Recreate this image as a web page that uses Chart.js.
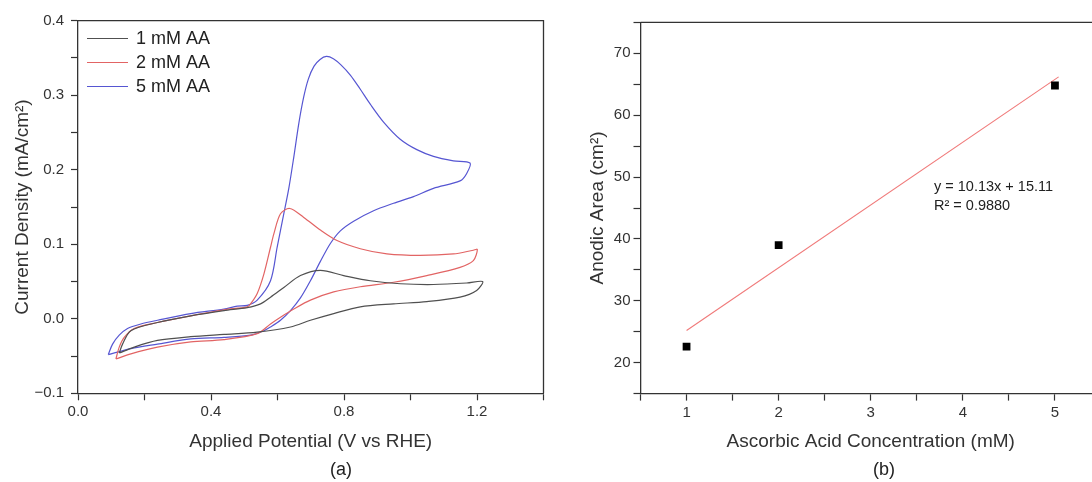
<!DOCTYPE html>
<html>
<head>
<meta charset="utf-8">
<script src="https://cdn.jsdelivr.net/npm/chart.js@4/dist/chart.umd.min.js"></script>
<style>
  html, body { margin: 0; padding: 0; background: #fff; overflow: hidden; }
  body { width: 1092px; height: 482px; position: relative; font-family: "Liberation Sans", Arial, sans-serif; }
  #cvWrap { position: absolute; left: 0; top: 0; width: 552px; height: 482px; }
  #fitWrap { position: absolute; left: 550px; top: 0; width: 560px; height: 482px; }
  .panel { position: absolute; top: 469px; transform: translate(-50%, -50%); font-size: 18px; color: #222; }
</style>
</head>
<body>
<div id="cvWrap"><canvas id="cvChart" width="552" height="482"></canvas></div>
<div id="fitWrap"><canvas id="fitChart" width="560" height="482"></canvas></div>
<div class="panel" style="left:341px">(a)</div>
<div class="panel" style="left:884px">(b)</div>
<script>
// (a) cyclic voltammograms: forward scan then reverse scan, closed loop
const aa1Potential = [0.124, 0.134, 0.159, 0.239, 0.339, 0.439, 0.509, 0.549, 0.579, 0.619, 0.669, 0.729, 0.799, 0.879, 0.969, 1.069, 1.169, 1.217,
    1.199, 1.149, 1.049, 0.949, 0.849, 0.769, 0.699, 0.639, 0.539, 0.439, 0.339, 0.239, 0.169, 0.124];
const aa1Current = [-0.046, -0.034, -0.016, -0.005, 0.004, 0.011, 0.015, 0.020, 0.029, 0.042, 0.058, 0.065, 0.058, 0.051, 0.047, 0.046, 0.048, 0.050,
    0.038, 0.029, 0.023, 0.020, 0.016, 0.007, -0.002, -0.011, -0.018, -0.021, -0.024, -0.029, -0.038, -0.046];

const aa2Potential = [0.114, 0.124, 0.139, 0.169, 0.239, 0.339, 0.439, 0.509, 0.519, 0.539, 0.559, 0.579, 0.589, 0.609, 0.637, 0.679, 0.729, 0.779, 0.849, 0.929, 1.029, 1.129, 1.189, 1.201,
    1.189, 1.149, 1.049, 0.949, 0.849, 0.769, 0.699, 0.649, 0.609, 0.579, 0.539, 0.439, 0.339, 0.239, 0.159, 0.114];
const aa2Current = [-0.054, -0.038, -0.025, -0.013, -0.005, 0.004, 0.012, 0.016, 0.020, 0.034, 0.060, 0.096, 0.114, 0.141, 0.148, 0.136, 0.119, 0.105, 0.094, 0.087, 0.085, 0.087, 0.092, 0.093,
    0.078, 0.069, 0.058, 0.049, 0.043, 0.036, 0.025, 0.013, 0.002, -0.007, -0.020, -0.028, -0.031, -0.038, -0.047, -0.054];

const aa5Potential = [0.091, 0.104, 0.124, 0.149, 0.189, 0.239, 0.339, 0.439, 0.479, 0.509, 0.539, 0.579, 0.599, 0.619, 0.634, 0.649, 0.664, 0.679, 0.693, 0.710, 0.728, 0.747, 0.768, 0.790, 0.819, 0.849, 0.879, 0.919, 0.969, 1.019, 1.069, 1.129, 1.179,
    1.169, 1.149, 1.069, 1.009, 0.949, 0.889, 0.829, 0.789, 0.759, 0.729, 0.699, 0.669, 0.639, 0.609, 0.579, 0.559, 0.519, 0.439, 0.339, 0.239, 0.159, 0.091];
const aa5Current = [-0.048, -0.034, -0.022, -0.013, -0.007, -0.002, 0.007, 0.013, 0.017, 0.018, 0.025, 0.051, 0.096, 0.141, 0.175, 0.217, 0.262, 0.298, 0.322, 0.339, 0.348, 0.352, 0.349, 0.341, 0.327, 0.308, 0.288, 0.264, 0.241, 0.227, 0.218, 0.212, 0.209,
    0.195, 0.185, 0.175, 0.164, 0.155, 0.145, 0.131, 0.118, 0.101, 0.077, 0.051, 0.028, 0.011, -0.002, -0.011, -0.016, -0.022, -0.025, -0.027, -0.034, -0.040, -0.048];

// (b) anodic area vs concentration
const concentration = [1, 2, 5];
const anodicArea = [22.6, 39.0, 64.8];
const fitX = [1, 5.04];
const fitY = [25.2, 66.2];
const fitText = ['y = 10.13x + 15.11', 'R\u00B2 = 0.9880'];

const toPoints = (xs, ys) => xs.map((x, i) => ({ x: x, y: ys[i] }));

const axisColor = '#333';
const textColor = '#333';
const fontFamily = '"Liberation Sans", Arial, sans-serif';
Chart.defaults.font.family = fontFamily;
Chart.defaults.color = textColor;

// box lines on top / right of plot area
const frame = {
    id: 'frame',
    afterDraw(chart) {
        const { ctx, chartArea: a } = chart;
        ctx.save();
        ctx.strokeStyle = axisColor;
        ctx.lineWidth = 1.3;
        ctx.beginPath();
        ctx.moveTo(a.left, a.top);
        ctx.lineTo(a.right, a.top);
        ctx.lineTo(a.right, a.bottom);
        ctx.stroke();
        ctx.restore();
    }
};

const cvLegend = {
    id: 'cvLegend',
    afterDraw(chart) {
        const ctx = chart.ctx;
        ctx.save();
        ctx.font = '18px ' + fontFamily;
        ctx.textBaseline = 'middle';
        chart.data.datasets.forEach((ds, i) => {
            const y = 38.5 + i * 24;
            ctx.strokeStyle = ds.borderColor;
            ctx.lineWidth = 1.2;
            ctx.beginPath();
            ctx.moveTo(87, y);
            ctx.lineTo(128, y);
            ctx.stroke();
            ctx.fillStyle = '#222';
            ctx.fillText(ds.label, 136, y + 1);
        });
        ctx.restore();
    }
};

const fitLabel = {
    id: 'fitLabel',
    afterDraw(chart) {
        const ctx = chart.ctx;
        ctx.save();
        ctx.font = '14.5px ' + fontFamily;
        ctx.fillStyle = '#222';
        ctx.textBaseline = 'middle';
        ctx.fillText(fitText[0], 384, 187);
        ctx.fillText(fitText[1], 384, 206);
        ctx.restore();
    }
};

function axis(opts) {
    return {
        type: 'linear',
        min: opts.min,
        max: opts.max,
        border: { color: axisColor, width: 1.3 },
        grid: { display: true, drawOnChartArea: false, tickLength: 7, color: axisColor, tickWidth: 1.2 },
        ticks: {
            stepSize: opts.step,
            padding: opts.padding,
            autoSkip: false,
            maxRotation: 0,
            color: textColor,
            font: { size: 15 },
            callback: opts.label
        },
        title: {
            display: true,
            text: opts.title,
            color: textColor,
            font: { size: 19 },
            padding: opts.titlePadding
        },
        afterFit: opts.fit
    };
}

// Left: CV curves
new Chart(document.getElementById('cvChart'), {
    type: 'scatter',
    data: {
        datasets: [
            { label: '1 mM AA', data: toPoints(aa1Potential, aa1Current), borderColor: '#505050' },
            { label: '2 mM AA', data: toPoints(aa2Potential, aa2Current), borderColor: '#e26464' },
            { label: '5 mM AA', data: toPoints(aa5Potential, aa5Current), borderColor: '#5656d2' }
        ].map(d => Object.assign(d, { showLine: true, pointRadius: 0, borderWidth: 1.2, tension: 0.3, fill: false }))
    },
    options: {
        responsive: false,
        animation: false,
        devicePixelRatio: 1,
        layout: { padding: { left: 0, top: 20.7, right: 8.5, bottom: 0 } },
        plugins: { legend: { display: false }, tooltip: { enabled: false } },
        scales: {
            x: axis({
                min: 0, max: 1.4, step: 0.2, padding: 3,
                label: v => (Math.round(v * 10) % 4 === 0 ? v.toFixed(1) : ''),
                title: 'Applied Potential (V vs RHE)',
                titlePadding: { top: 0, bottom: 29 },
                fit: s => { s.height = 88.7; }
            }),
            y: axis({
                min: -0.1, max: 0.4, step: 0.05, padding: 7,
                label: v => (Math.round(v * 100) % 10 === 0 ? v.toFixed(1).replace('-', '\u2212') : ''),
                title: 'Current Density (mA/cm\u00B2)',
                titlePadding: { top: 11, bottom: 0 },
                fit: s => { s.width = 78; }
            })
        }
    },
    plugins: [frame, cvLegend]
});

// Right: anodic area with linear fit
new Chart(document.getElementById('fitChart'), {
    type: 'scatter',
    data: {
        datasets: [
            { label: 'Anodic area', data: toPoints(concentration, anodicArea), pointStyle: 'rect', pointRadius: 5.5,
              backgroundColor: '#000', borderColor: '#000', borderWidth: 0 },
            { label: 'Linear fit', data: toPoints(fitX, fitY), showLine: true, pointRadius: 0,
              borderColor: '#f07a7a', borderWidth: 1.1 }
        ]
    },
    options: {
        responsive: false,
        animation: false,
        devicePixelRatio: 1,
        layout: { padding: { left: 0, top: 22.4, right: 9, bottom: 0 } },
        plugins: { legend: { display: false }, tooltip: { enabled: false } },
        scales: {
            x: axis({
                min: 0.5, max: 5.5, step: 0.5, padding: 3,
                label: v => (Number.isInteger(v) ? String(v) : ''),
                title: 'Ascorbic Acid Concentration (mM)',
                titlePadding: { top: 0, bottom: 29 },
                fit: s => { s.height = 88.4; }
            }),
            y: axis({
                min: 15, max: 75, step: 5, padding: 3,
                label: v => (v % 10 === 0 ? String(v) : ''),
                title: 'Anodic Area (cm\u00B2)',
                titlePadding: { top: 36.6, bottom: 0 },
                fit: s => { s.width = 90.5; }
            })
        }
    },
    plugins: [frame, fitLabel]
});
</script>
</body>
</html>
